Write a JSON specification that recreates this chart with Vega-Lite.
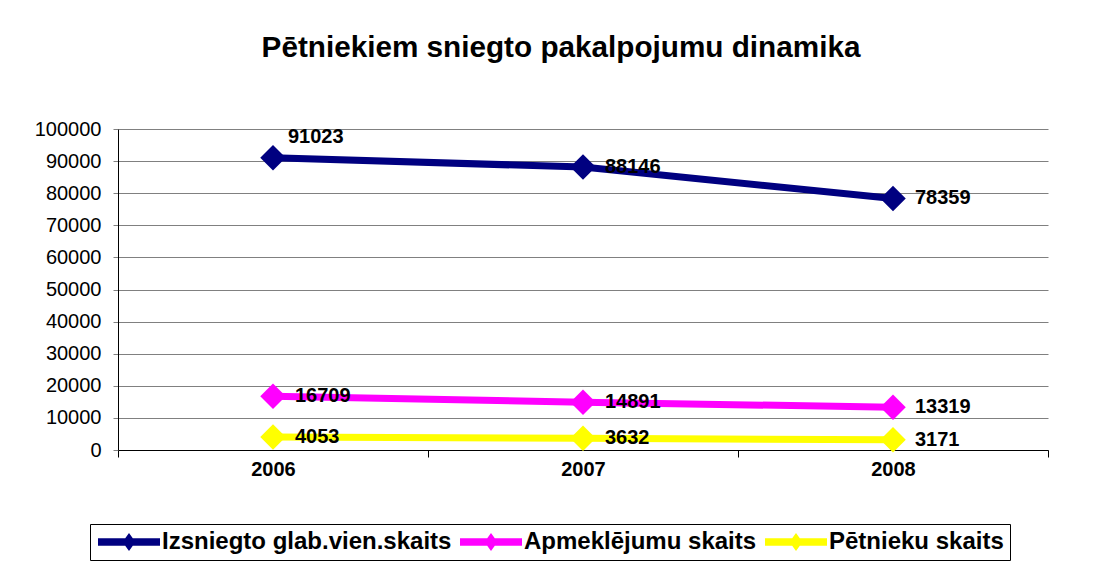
{
  "$schema": "https://vega.github.io/schema/vega-lite/v6.json",
  "width": 930,
  "height": 321,
  "autosize": {"type": "none"},
  "padding": {"left": 118, "top": 129, "right": 58, "bottom": 119},
  "background": "white",
  "title": {
    "text": "Pētniekiem sniegto pakalpojumu dinamika",
    "font": "Liberation Sans",
    "fontSize": 29.7,
    "fontWeight": "bold",
    "color": "black",
    "anchor": "middle",
    "frame": "group",
    "dx": -22,
    "offset": 55
  },
  "config": {
    "view": {"stroke": null},
    "font": "Liberation Sans"
  },
  "data": {
    "values": [
      {"year": "2006", "series": "Izsniegto glab.vien.skaits", "value": 91023},
      {"year": "2007", "series": "Izsniegto glab.vien.skaits", "value": 88146},
      {"year": "2008", "series": "Izsniegto glab.vien.skaits", "value": 78359},
      {"year": "2006", "series": "Apmeklējumu skaits", "value": 16709},
      {"year": "2007", "series": "Apmeklējumu skaits", "value": 14891},
      {"year": "2008", "series": "Apmeklējumu skaits", "value": 13319},
      {"year": "2006", "series": "Pētnieku skaits", "value": 4053},
      {"year": "2007", "series": "Pētnieku skaits", "value": 3632},
      {"year": "2008", "series": "Pētnieku skaits", "value": 3171}
    ]
  },
  "encoding": {
    "x": {
      "field": "year",
      "type": "ordinal",
      "scale": {"type": "band", "paddingInner": 0, "paddingOuter": 0},
      "axis": {
        "title": null,
        "labelAngle": 0,
        "labelFont": "Liberation Sans",
        "labelFontSize": 20,
        "labelFontWeight": "bold",
        "labelColor": "black",
        "domainColor": "black",
        "domainWidth": 1,
        "tickColor": "black",
        "tickSize": 7,
        "tickBand": "extent",
        "labelPadding": 2,
        "grid": false
      }
    },
    "y": {
      "field": "value",
      "type": "quantitative",
      "scale": {"domain": [0, 100000], "nice": false},
      "axis": {
        "title": null,
        "values": [0, 10000, 20000, 30000, 40000, 50000, 60000, 70000, 80000, 90000, 100000],
        "format": "d",
        "labelFont": "Liberation Sans",
        "labelFontSize": 20,
        "labelColor": "black",
        "labelPadding": 12,
        "domainColor": "black",
        "domainWidth": 1,
        "tickColor": "#808080",
        "tickSize": 5,
        "grid": true,
        "gridColor": "#808080",
        "gridWidth": 1,
        "gridOpacity": 1
      }
    },
    "color": {
      "field": "series",
      "type": "nominal",
      "scale": {
        "domain": ["Izsniegto glab.vien.skaits", "Apmeklējumu skaits", "Pētnieku skaits"],
        "range": ["#000080", "#FF00FF", "#FFFF00"]
      },
      "legend": {
        "title": null,
        "orient": "none",
        "direction": "horizontal",
        "legendX": -28,
        "legendY": 395,
        "padding": 6,
        "strokeColor": "black",
        "fillColor": "white",
        "columnPadding": 6,
        "labelOffset": 42,
        "labelFont": "Liberation Sans",
        "labelFontSize": 24,
        "labelFontWeight": "bold",
        "labelColor": "black",
        "labelLimit": 400,
        "symbolType": "M-1,-0.37 L5.2,-0.37 L5.2,0.37 L-1,0.37 Z M1.45,0 L2.1,-0.9 L2.75,0 L2.1,0.9 Z",
        "symbolSize": 400,
        "symbolStrokeWidth": 0,
        "symbolOpacity": 1,
        "encode": {
          "symbols": {
            "update": {
              "fill": {"scale": "color", "field": "value"},
              "fillOpacity": {"value": 1},
              "strokeWidth": {"value": 0}
            }
          }
        }
      }
    }
  },
  "layer": [
    {
      "mark": {"type": "line", "strokeWidth": 7}
    },
    {
      "mark": {"type": "point", "shape": "diamond", "filled": true, "size": 650, "opacity": 1}
    },
    {
      "transform": [{"filter": "!(datum.series === 'Izsniegto glab.vien.skaits' && datum.year === '2006')"}],
      "mark": {"type": "text", "align": "left", "baseline": "middle", "dx": 22, "fontSize": 20, "fontWeight": "bold", "font": "Liberation Sans", "color": "black"},
      "encoding": {"text": {"field": "value", "type": "quantitative", "format": "d"}, "color": {"value": "black"}}
    },
    {
      "transform": [{"filter": "datum.series === 'Izsniegto glab.vien.skaits' && datum.year === '2006'"}],
      "mark": {"type": "text", "align": "left", "baseline": "middle", "dx": 15, "dy": -21, "fontSize": 20, "fontWeight": "bold", "font": "Liberation Sans", "color": "black"},
      "encoding": {"text": {"field": "value", "type": "quantitative", "format": "d"}, "color": {"value": "black"}}
    }
  ]
}
